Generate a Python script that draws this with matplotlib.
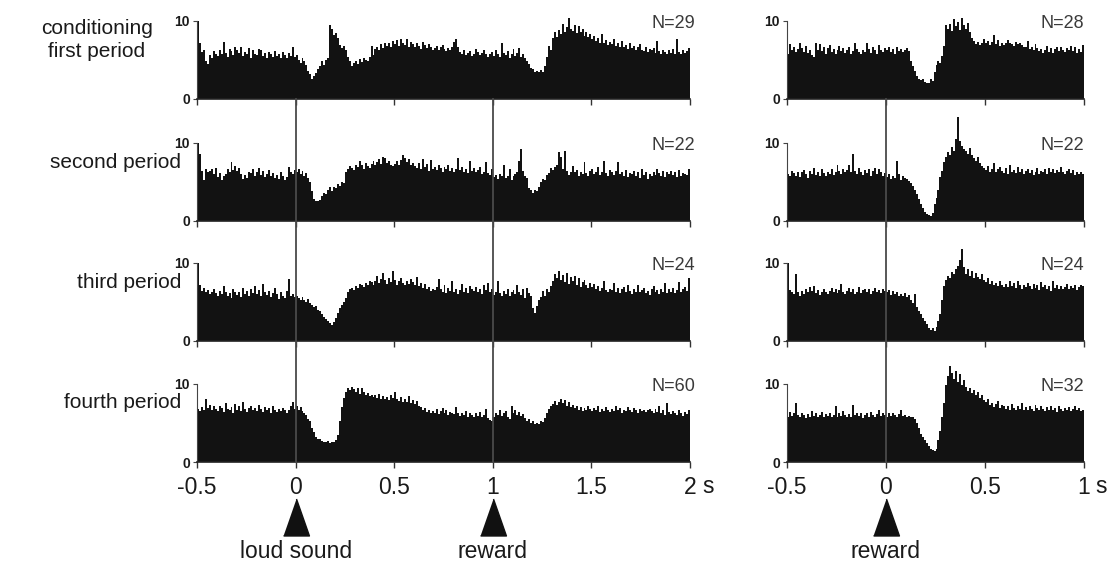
import numpy as np
import matplotlib
matplotlib.use("Agg")
import matplotlib.pyplot as plt
from matplotlib.transforms import blended_transform_factory
from matplotlib.lines import Line2D

plt.rcParams['font.family'] = ['Liberation Sans', 'DejaVu Sans']

# ---------------- data (spikes/s, 10 ms bins) ----------------
bin_width = 0.01
left_range = (-0.5, 2.0)
right_range = (-0.5, 1.0)

row_labels = ["conditioning\nfirst period", "second period", "third period", "fourth period"]
n_left = ["N=29", "N=22", "N=24", "N=60"]
n_right = ["N=28", "N=22", "N=24", "N=32"]
left_xticks = [-0.5, 0, 0.5, 1, 1.5, 2]
left_xticklabels = ["-0.5", "0", "0.5", "1", "1.5", "2"]
right_xticks = [-0.5, 0, 0.5, 1]
right_xticklabels = ["-0.5", "0", "0.5", "1"]
left_events = [0.0, 1.0]
left_event_names = ["loud sound", "reward"]
right_events = [0.0]
right_event_names = ["reward"]

L1 = [10.0, 7.2, 6.0, 6.3, 4.8, 4.5, 5.6, 5.2, 6.1, 5.8,
      5.5, 6.2, 5.7, 7.3, 5.9, 5.4, 6.4, 6.1, 5.6, 6.6,
      6.3, 5.9, 6.6, 5.5, 6.0, 5.7, 6.5, 5.3, 6.2, 5.8,
      5.6, 6.4, 6.2, 5.5, 5.9, 5.2, 6.0, 5.7, 5.4, 6.1,
      5.5, 5.8, 5.2, 6.0, 5.6, 5.3, 5.9, 5.5, 6.7, 5.4,
      5.6, 5.0, 4.6, 5.2, 4.8, 4.4, 3.6, 3.2, 2.5, 2.9,
      3.3, 3.8, 4.2, 4.8, 4.3, 5.0, 5.3, 9.4, 9.0, 8.2,
      8.4, 7.8, 6.9, 6.5, 6.8, 6.2, 5.4, 4.9, 4.2, 4.6,
      4.8, 4.5, 5.1, 4.7, 5.2, 5.0, 4.9, 5.4, 6.8, 5.6,
      6.4, 6.7, 6.3, 7.0, 6.5, 7.1, 6.8, 7.2, 6.6, 7.4,
      7.0, 7.5, 6.8, 7.7, 7.2, 6.9, 7.6, 6.7, 7.3, 7.0,
      6.6, 7.2, 6.8, 6.4, 7.3, 6.9, 6.5, 7.0, 6.7, 6.3,
      6.5, 6.8, 6.2, 6.6, 6.9, 6.4, 6.1, 6.5, 6.3, 6.7,
      7.3, 7.6, 6.6, 6.0, 5.8, 6.2, 5.6, 5.9, 6.1, 5.5,
      5.7, 6.4, 6.0, 5.6, 5.9, 6.3, 5.8, 5.4, 5.7, 6.0,
      5.5, 6.2, 5.8, 5.4, 7.2, 5.9, 5.6, 6.1, 5.3, 5.7,
      6.4, 5.5, 5.9, 6.5, 5.4, 5.8, 5.2, 4.9, 4.5, 4.0,
      3.8, 3.5, 3.6, 3.4, 3.7, 3.5, 4.2, 5.4, 6.8, 6.2,
      7.8, 8.5, 7.9, 8.8, 8.3, 9.6, 8.6, 9.2, 10.4, 8.9,
      8.7, 9.5, 8.4, 9.3, 8.5, 8.9, 8.1, 8.6, 7.9, 8.3,
      7.6, 8.0, 7.4, 7.8, 7.2, 8.3, 7.1, 7.5, 6.9, 7.3,
      7.0, 7.6, 6.8, 7.2, 6.6, 7.4, 6.7, 6.9, 6.4, 7.1,
      6.5, 6.8, 6.2, 6.6, 7.0, 6.3, 6.1, 6.7, 6.0, 6.4,
      6.2, 6.5, 5.9, 7.4, 6.1, 5.8, 6.3, 6.0, 5.7, 6.2,
      5.9, 6.4, 5.8, 7.6, 6.0, 5.7, 6.3, 5.9, 6.1, 6.5]

L2 = [10.0, 8.6, 6.4, 5.2, 6.6, 6.2, 6.4, 6.7, 6.0, 6.8,
      5.6, 6.1, 5.3, 5.7, 6.0, 6.6, 6.2, 7.5, 6.5, 7.0,
      6.4, 6.8, 6.0, 5.4, 5.9, 5.5, 6.2, 6.1, 6.6, 5.8,
      6.3, 6.8, 5.9, 6.4, 5.6, 6.0, 6.5, 5.7, 6.1, 5.5,
      5.9, 5.4, 6.2, 5.8, 5.3, 5.6, 6.9, 6.3, 6.0, 6.5,
      6.2, 6.7, 6.0, 6.4, 5.8, 6.1, 5.5, 5.0, 3.8, 2.8,
      2.5, 2.6, 2.7, 3.2, 3.6, 3.4, 3.9, 4.3, 3.8, 4.4,
      4.2, 4.7, 4.5, 5.0, 4.8, 6.2, 6.6, 7.0, 6.8, 6.5,
      7.2, 6.9, 7.6, 7.1, 6.7, 7.4, 7.0, 6.8, 7.3, 7.7,
      7.1, 7.5, 7.9, 7.3, 8.2, 8.0, 7.4, 7.6, 7.2, 7.0,
      7.3, 7.6, 7.1, 7.8, 8.4, 8.1, 7.5, 7.9, 7.2, 7.4,
      7.0, 6.8, 7.4, 6.6, 7.9, 6.9, 7.3, 6.4, 7.8, 6.7,
      6.9, 6.5, 7.2, 6.8, 6.3, 6.9, 6.6, 7.1, 6.4, 6.8,
      6.2, 6.7, 8.0, 6.5, 6.9, 6.3, 6.6, 6.1, 7.7, 6.4,
      6.8, 6.2, 6.5, 6.9, 6.0, 6.3, 7.5, 6.1, 5.9, 6.6,
      5.6, 5.9, 5.4, 6.0, 5.7, 7.2, 5.5, 5.8, 6.6, 5.3,
      5.7, 6.0, 6.3, 7.6, 9.2, 6.4, 5.8, 5.5, 4.2, 3.9,
      3.6, 4.0, 3.8, 4.3, 5.0, 5.4, 5.2, 5.9, 6.1, 6.8,
      6.5, 6.9, 7.1, 8.8, 8.2, 6.7, 9.0, 6.4, 5.9, 6.3,
      7.0, 6.2, 6.5, 5.8, 6.3, 6.0, 7.5, 6.1, 5.7, 6.4,
      6.6, 6.0, 6.3, 6.9, 5.9, 6.2, 7.6, 6.1, 5.8, 6.5,
      6.3, 5.9, 6.4, 7.5, 6.0, 6.2, 5.7, 6.5, 5.6, 6.1,
      6.0, 6.4, 5.8, 6.3, 5.5, 6.7, 5.9, 6.2, 5.4, 6.0,
      5.7, 6.2, 5.9, 6.6, 6.1, 5.8, 6.4, 5.6, 6.3, 6.0,
      6.4, 5.9, 6.2, 5.6, 6.5, 5.8, 6.1, 6.0, 5.9, 6.6]

L3 = [10.0, 7.2, 6.4, 6.8, 6.2, 6.5, 6.0, 6.3, 6.6, 6.1,
      5.7, 6.4, 6.0, 7.0, 6.3, 5.8, 6.1, 5.5, 6.6, 6.2,
      5.9, 6.3, 5.6, 6.8, 6.0, 6.4, 5.8, 6.6, 6.1, 7.0,
      6.0, 6.5, 5.7, 7.3, 6.2, 5.9, 6.4, 5.6, 6.1, 6.8,
      6.0, 5.4, 6.2, 5.8, 5.5, 6.4, 7.9, 5.7, 6.0, 5.6,
      5.8, 5.5, 5.3, 5.6, 5.2, 5.0, 5.4, 4.8, 4.6, 4.3,
      4.5, 4.0, 3.8, 3.5, 3.1, 2.8, 2.6, 2.3, 2.1, 2.4,
      3.0, 3.6, 4.2, 4.6, 5.0, 5.5, 6.2, 6.6, 6.8, 6.5,
      7.0, 6.8, 7.3, 7.1, 6.9, 7.4, 7.2, 7.7, 7.5, 7.1,
      7.6, 8.3, 7.4, 7.9, 8.7, 7.8, 7.3, 8.0, 7.5, 9.0,
      7.8, 7.2, 7.6, 8.1, 7.4, 7.1, 7.7, 7.3, 7.9, 7.5,
      7.2, 8.2, 7.0, 7.4, 6.8, 7.3, 6.6, 6.9, 6.4, 6.7,
      6.5, 6.9, 7.9, 6.6, 6.3, 7.2, 6.1, 6.8, 6.4, 7.6,
      6.2, 6.7, 6.0, 6.5, 7.3, 6.3, 6.8, 6.1, 7.0, 6.6,
      6.4, 6.9, 6.2, 6.7, 6.0, 7.1, 6.5, 7.4, 6.3, 6.6,
      5.9, 6.3, 7.7, 6.1, 5.8, 6.4, 6.0, 6.6, 5.7, 6.2,
      6.5, 6.0, 7.2, 6.3, 5.9, 6.6, 5.5, 6.8, 6.1, 5.7,
      4.2, 3.6, 4.5, 5.2, 5.6, 6.4, 5.8, 6.7, 6.3, 7.0,
      7.6, 8.6, 8.0, 9.0, 7.8, 8.4, 7.5, 8.7, 7.3, 8.2,
      7.6, 8.3, 7.2, 8.0, 6.9, 7.5, 7.8, 7.1, 6.8, 7.4,
      6.9, 7.3, 6.6, 7.0, 6.4, 6.8, 7.6, 6.5, 6.2, 6.7,
      6.5, 7.4, 6.3, 6.8, 6.1, 6.6, 6.9, 6.2, 7.2, 6.4,
      6.0, 6.6, 6.3, 7.1, 6.2, 6.5, 6.8, 6.1, 6.4, 5.9,
      6.6, 7.0, 6.2, 6.5, 6.0, 6.7, 6.3, 7.4, 6.1, 6.6,
      6.3, 6.8, 6.1, 6.5, 7.5, 6.2, 6.6, 6.9, 6.4, 8.1]

L4 = [6.8, 6.5, 7.0, 6.6, 8.1, 6.9, 7.3, 6.7, 7.1, 6.8,
      6.5, 7.2, 6.9, 6.4, 7.5, 6.8, 6.6, 7.0, 6.3, 7.4,
      6.7, 7.1, 6.5, 7.6, 6.8, 6.4, 6.9, 7.2, 6.6, 6.9,
      6.5, 7.3, 6.8, 6.4, 7.0, 6.6, 6.9, 6.3, 7.1, 6.7,
      6.4, 6.8, 6.5, 6.9, 6.6, 6.3, 6.7, 7.2, 7.6, 6.8,
      7.1, 6.7, 7.0, 6.5, 6.2, 6.0, 5.5, 5.2, 4.3, 3.8,
      3.2, 2.9, 3.0, 2.7, 2.6, 2.5, 2.7, 2.4, 2.6, 2.5,
      2.8, 3.4, 5.2, 7.0, 8.2, 9.0, 9.5, 9.2, 9.6, 9.3,
      9.0, 9.4, 8.7, 9.5, 8.9, 8.5, 8.8, 8.4, 8.6, 8.3,
      8.5, 8.2, 8.7, 8.0, 8.4, 8.1, 8.3, 7.9, 8.6, 8.2,
      8.9, 8.0, 7.8, 8.3, 7.6, 8.1, 7.7, 8.4, 7.5, 7.9,
      7.4, 7.8, 7.2, 7.0, 6.6, 6.9, 6.4, 6.7, 6.2, 6.5,
      6.3, 6.8, 6.1, 6.5, 6.9, 6.2, 6.6, 6.0, 6.4, 6.3,
      6.1, 7.0, 6.2, 5.9, 6.3, 6.0, 6.5, 5.8, 6.2, 6.0,
      5.8, 6.2, 5.9, 6.4, 5.7, 6.0, 6.8, 5.6, 5.4, 5.3,
      5.8, 6.3, 6.0, 6.6, 5.9, 6.2, 6.5, 5.7, 5.5, 7.1,
      6.3, 6.7, 6.0, 6.4, 5.9, 6.1, 5.6, 5.3, 5.5, 5.0,
      5.2, 4.9, 5.0, 4.8, 5.3, 5.1, 5.6, 6.2, 6.8, 7.2,
      7.4, 7.8, 7.3, 7.6, 8.1, 7.5, 7.9, 7.2, 7.6, 7.0,
      7.3, 6.9, 7.1, 6.7, 7.0, 6.5, 6.9, 6.6, 7.2, 6.8,
      6.5, 6.9, 6.6, 7.1, 6.4, 6.8, 6.5, 7.0, 6.7, 6.4,
      6.8, 6.5, 7.2, 6.6, 6.9, 6.3, 6.7, 6.5, 7.0, 6.6,
      6.4, 6.9, 6.6, 6.3, 6.8, 6.5, 6.7, 6.4, 6.6, 6.8,
      6.5, 6.2, 6.8, 6.4, 7.1, 6.3, 6.6, 6.0, 7.5, 6.4,
      6.1, 6.5, 6.3, 6.0, 6.6, 6.2, 5.9, 6.4, 6.1, 6.7]

R1 = [5.8, 7.0, 6.2, 6.6, 6.0, 6.4, 7.2, 6.5, 6.0, 6.8,
      5.9, 6.3, 5.6, 5.4, 7.1, 6.3, 7.0, 6.1, 6.6, 5.8,
      6.5, 6.9, 6.0, 6.4, 5.7, 6.3, 6.8, 6.1, 6.5, 5.9,
      6.2, 6.7, 5.8, 6.1, 7.2, 6.4, 6.0, 5.8, 6.3, 6.0,
      7.1, 6.4, 5.9, 6.7, 6.2, 5.7, 6.9, 6.3, 6.0, 6.5,
      6.2, 6.7, 6.0, 6.4, 5.8, 6.6, 6.1, 6.4, 6.0, 6.3,
      6.5, 6.1, 4.8, 4.2, 3.6, 3.0, 2.6, 2.4, 2.5, 2.2,
      2.0, 2.1, 2.5, 2.3, 3.5, 4.4, 4.9, 4.6, 5.5, 6.8,
      9.4, 9.0, 9.6, 8.7, 10.2, 9.3, 9.8, 8.8, 10.3, 9.5,
      9.0, 9.7, 8.6, 7.8, 7.4, 7.0, 7.3, 6.9, 7.2, 7.6,
      7.1, 7.4, 6.9, 7.3, 8.2, 7.0, 7.5, 6.8, 7.2, 6.9,
      7.1, 7.5, 7.2, 7.0, 6.8, 7.3, 7.0, 7.2, 6.9, 6.7,
      6.6, 7.4, 6.4, 6.7, 6.2, 7.0, 6.5, 6.1, 6.4, 5.9,
      6.3, 6.8, 6.0, 6.5, 5.9, 6.4, 6.7, 6.1, 6.6, 6.2,
      6.0, 6.5, 6.2, 6.8, 6.1, 6.6, 5.9, 6.4, 6.0, 6.9]

R2 = [6.0, 5.7, 6.4, 6.1, 5.8, 6.3, 5.6, 6.2, 6.5, 6.0,
      5.5, 6.4, 6.0, 6.8, 5.9, 6.2, 5.7, 6.6, 6.1, 5.8,
      6.3, 6.0, 6.6, 5.9, 6.2, 7.2, 6.4, 6.0, 6.7, 6.3,
      6.5, 7.1, 6.2, 8.6, 6.4, 6.0, 6.8, 6.3, 5.9, 6.5,
      6.1, 6.6, 5.8, 6.4, 6.8, 6.0, 6.7, 6.2, 5.7, 6.1,
      5.6, 6.0, 5.4, 5.8, 5.5, 7.6, 6.0, 5.3, 5.7, 5.5,
      5.4, 5.1, 4.8, 4.5, 4.0, 3.4, 2.8, 2.2, 1.6, 1.2,
      0.9, 0.8, 0.7, 1.0, 2.2, 3.0, 4.0, 5.6, 6.4, 7.5,
      8.2, 8.8, 8.4, 9.4, 9.0, 10.5, 13.3, 10.2, 9.6, 9.2,
      9.0, 8.6, 9.3, 8.4, 8.0, 7.6, 8.2, 7.4, 7.0, 6.8,
      6.5, 7.0, 6.3, 6.7, 7.4, 6.2, 6.6, 6.9, 6.4, 6.1,
      6.8, 6.0, 7.2, 6.3, 6.5, 6.1, 6.9, 6.2, 6.6, 6.0,
      6.4, 6.7, 6.1, 6.5, 5.9, 6.3, 6.8, 6.0, 6.4, 6.2,
      6.6, 6.0, 6.8, 6.3, 6.7, 6.1, 6.5, 6.2, 6.9, 6.3,
      6.0, 6.4, 6.7, 6.1, 6.5, 5.9, 6.3, 6.0, 6.2, 6.0]

R3 = [10.0, 6.5, 6.2, 6.0, 8.5, 6.3, 5.8, 6.4, 6.0, 6.6,
      6.2, 6.9, 6.4, 7.0, 6.1, 6.5, 5.9, 6.3, 6.6, 6.2,
      6.0, 6.4, 6.8, 6.2, 6.7, 6.1, 6.5, 7.3, 6.3, 6.0,
      6.4, 6.8, 6.2, 6.6, 6.0, 6.3, 6.9, 6.1, 6.5, 6.7,
      6.3, 6.6, 6.0, 6.4, 6.8, 6.2, 6.5, 6.1, 6.7, 6.4,
      6.2, 6.5, 5.9, 6.4, 6.0, 6.2, 5.8, 6.0, 5.7, 6.1,
      5.6, 5.9, 5.3, 4.8, 6.0, 4.4, 3.8, 3.4, 3.0, 2.6,
      2.2, 1.7, 1.4, 1.6, 1.3, 1.8, 2.6, 3.4, 5.2, 7.0,
      7.8, 8.3, 8.0, 8.8, 8.5, 9.2, 9.6, 10.4, 11.7, 9.4,
      8.6, 9.2, 8.3, 8.9, 8.0, 8.7, 8.2, 7.9, 8.5, 7.8,
      7.5, 8.1, 7.3, 7.7, 7.1, 7.4, 7.0, 7.6, 7.2, 6.9,
      7.3, 6.9, 7.6, 7.0, 7.4, 6.8, 7.7, 7.1, 6.7, 7.2,
      6.9, 7.4, 7.0, 6.6, 7.3, 6.8, 7.1, 6.5, 7.5, 6.9,
      7.2, 6.7, 7.0, 6.4, 7.6, 6.8, 7.1, 6.6, 7.0, 6.7,
      6.9, 7.3, 6.6, 7.0, 6.8, 7.2, 6.5, 6.9, 7.1, 7.0]

R4 = [5.8, 6.4, 5.9, 6.2, 7.5, 6.0, 5.7, 6.3, 6.0, 5.6,
      6.1, 5.8, 6.5, 5.9, 6.2, 5.7, 6.0, 6.4, 5.8, 6.1,
      5.9, 6.3, 5.7, 6.0, 7.2, 5.8, 6.2, 5.9, 6.5, 6.0,
      5.7, 6.1, 5.8, 7.3, 6.0, 6.3, 5.9, 6.2, 5.6, 6.0,
      6.2, 5.8, 6.4, 6.0, 5.7, 6.1, 6.6, 5.9, 6.3, 6.0,
      5.8, 6.2, 5.9, 6.3, 6.0, 5.7, 6.1, 6.6, 5.9, 6.0,
      5.8, 5.9, 5.7, 5.8, 5.5, 5.0, 4.3, 3.6, 3.2, 2.8,
      2.4, 2.0, 1.7, 1.5, 1.4, 1.6, 2.8, 4.0, 5.8, 7.5,
      9.8, 11.0, 12.3, 11.4, 10.6, 11.6, 10.2, 11.3, 9.8, 10.5,
      9.6, 9.1, 9.5, 8.8, 9.2, 8.5, 9.0, 8.2, 8.6, 7.9,
      7.6, 8.0, 7.3, 7.5, 7.0, 7.4, 7.8, 6.9, 7.3, 7.1,
      6.8, 7.2, 6.7, 7.4, 6.9, 6.6, 7.1, 6.8, 7.5, 6.7,
      7.0, 6.6, 7.2, 6.8, 6.5, 7.3, 6.9, 6.6, 7.1, 6.8,
      6.5, 7.0, 6.7, 7.2, 6.6, 6.9, 6.4, 7.1, 6.8, 6.5,
      6.9, 6.6, 7.0, 6.5, 6.8, 7.2, 6.6, 6.9, 6.5, 6.7]

left_rows = [L1, L2, L3, L4]
right_rows = [R1, R2, R3, R4]

# ---------------- layout (pixels of the 1110x562 canvas) ----------------
W, H = 1110, 562
fig = plt.figure(figsize=(W / 100, H / 100), dpi=100)

row_zero_px = [99, 221, 341, 462]
row_h_px = 78.3
left_x_px = (197, 690)
right_x_px = (787, 1084)

BAR_C = "#121212"
TXT_C = "#1a1a1a"


def make_axes(xpx, zero_px):
    return fig.add_axes([xpx[0] / W, 1 - zero_px / H,
                         (xpx[1] - xpx[0]) / W, row_h_px / H])


def style(ax, xr, xticks, xticklabels, bottom):
    ax.set_xlim(*xr)
    ax.set_ylim(0, 10)
    for s in ("top", "right"):
        ax.spines[s].set_visible(False)
    ax.spines["left"].set_linewidth(0.8)
    ax.spines["left"].set_color("#444444")
    ax.spines["bottom"].set_linewidth(1.2)
    ax.spines["bottom"].set_color("#222222")
    ax.set_yticks([0, 10])
    ax.set_yticklabels(["0", "10"], fontsize=10, fontweight="bold", color=TXT_C)
    ax.tick_params(axis="y", length=3, width=0.8, pad=2, color="#444444")
    ax.set_xticks(xticks)
    ax.tick_params(axis="x", length=4, width=1.0, color="#333333", pad=6)
    if bottom:
        ax.set_xticklabels(xticklabels, fontsize=16.5, color=TXT_C)
    else:
        ax.set_xticklabels([])
    ax.patch.set_alpha(0)


left_axes, right_axes = [], []
for i in range(4):
    ax = make_axes(left_x_px, row_zero_px[i])
    edges = np.linspace(left_range[0], left_range[1], len(left_rows[i]) + 1)
    ax.stairs(left_rows[i], edges, fill=True, color=BAR_C, linewidth=0, clip_on=False)
    style(ax, left_range, left_xticks, left_xticklabels, i == 3)
    left_axes.append(ax)

    axr = make_axes(right_x_px, row_zero_px[i])
    edges_r = np.linspace(right_range[0], right_range[1], len(right_rows[i]) + 1)
    axr.stairs(right_rows[i], edges_r, fill=True, color=BAR_C, linewidth=0, clip_on=False)
    style(axr, right_range, right_xticks, right_xticklabels, i == 3)
    right_axes.append(axr)

    yN = 1 - (row_zero_px[i] - 0.965 * row_h_px) / H
    fig.text(695 / W, yN, n_left[i], ha="right", va="center", fontsize=13, color="#3a3a3a")
    fig.text(1084 / W, yN, n_right[i], ha="right", va="center", fontsize=13, color="#3a3a3a")

# row labels
label_pos = [(97, 40, "center"), (181, 163, "right"), (181, 283, "right"), (181, 403, "right")]
for (px, py, ha), lab in zip(label_pos, row_labels):
    fig.text(px / W, 1 - py / H, lab, ha=ha, va="center", fontsize=15, color=TXT_C,
             linespacing=1.25)

# unit labels
fig.text(708 / W, 1 - 493 / H, "s", ha="center", va="baseline", fontsize=16.5, color=TXT_C)
fig.text(1101 / W, 1 - 493 / H, "s", ha="center", va="baseline", fontsize=16.5, color=TXT_C)

# event lines, triangles and labels
tri = [(-0.35, -0.5), (0.35, -0.5), (0.0, 0.5)]
for axs, events, names in ((left_axes, left_events, left_event_names),
                           (right_axes, right_events, right_event_names)):
    tr = blended_transform_factory(axs[0].transData, fig.transFigure)
    for ev, name in zip(events, names):
        fig.add_artist(Line2D([ev, ev], [1 - 99 / H, 1 - 462 / H], transform=tr,
                              color="#4a4a4a", lw=1.3, zorder=5))
        fig.add_artist(Line2D([ev], [1 - 516.5 / H], transform=tr, marker=tri,
                              markersize=26.6, color="#111111", linestyle="none"))
        fig.text(ev, 1 - 552 / H, name, transform=tr, ha="center", va="center",
                 fontsize=16.5, color=TXT_C)

fig.savefig("out.png", dpi=100)
